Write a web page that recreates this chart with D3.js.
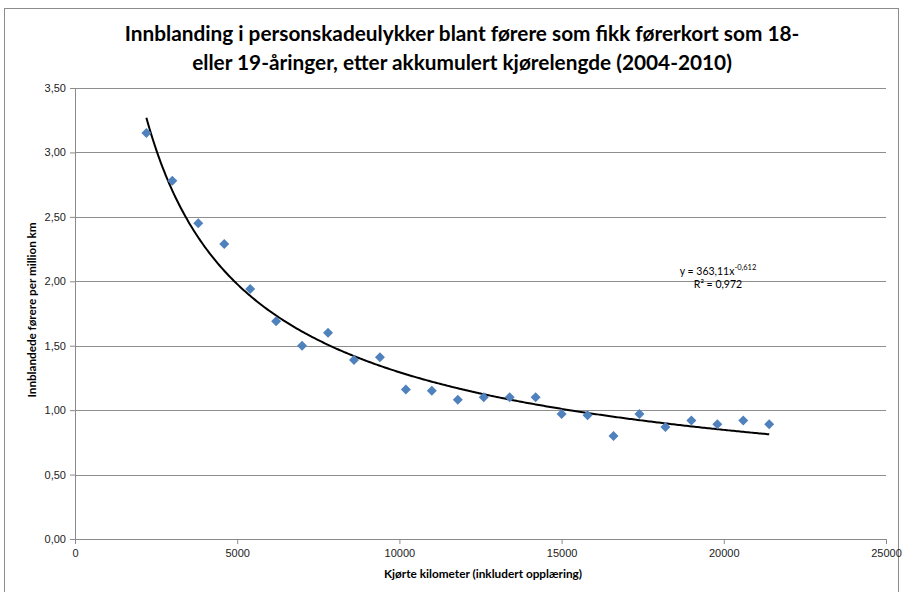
<!DOCTYPE html>
<html>
<head>
<meta charset="utf-8">
<script src="https://cdn.jsdelivr.net/npm/d3@7/dist/d3.min.js"></script>
<style>
  body { margin: 0; background: #fff; }
  svg { font-family: Lato, "Open Sans", sans-serif; }
  .tick text { font-size: 11px; fill: #222; }
</style>
</head>
<body>
<div id="chart"></div>
<script>
// Data
var kilometers = [2200, 3000, 3800, 4600, 5400, 6200, 7000, 7800, 8600, 9400,
  10200, 11000, 11800, 12600, 13400, 14200, 15000, 15800, 16600, 17400,
  18200, 19000, 19800, 20600, 21400];
var involvement = [3.15, 2.78, 2.45, 2.29, 1.94, 1.69, 1.50, 1.60, 1.39, 1.41,
  1.16, 1.15, 1.08, 1.10, 1.10, 1.10, 0.97, 0.96, 0.80, 0.97,
  0.87, 0.92, 0.89, 0.92, 0.89];
var xTicks = [0, 5000, 10000, 15000, 20000, 25000];
var yTicks = [0, 0.5, 1, 1.5, 2, 2.5, 3, 3.5];

// power trendline as printed on the chart
var trendA = 363.11;
var trendB = -0.612;

var svgWidth = 904;
var svgHeight = 592;

var margin = {
  top: 88,
  right: 18,
  bottom: 53,
  left: 75
};

var width = svgWidth - margin.left - margin.right;
var height = svgHeight - margin.top - margin.bottom;

var svg = d3.select("#chart")
  .append("svg")
  .attr("width", svgWidth)
  .attr("height", svgHeight);

// chart frame
svg.append("rect")
  .attr("x", 4.5)
  .attr("y", 8.5)
  .attr("width", 894)
  .attr("height", 600)
  .attr("fill", "none")
  .attr("stroke", "#8c8c8c");

var chartGroup = svg.append("g")
  .attr("transform", `translate(${margin.left}, ${margin.top})`);

var xScale = d3.scaleLinear().domain([0, 25000]).range([0, width]);
var yScale = d3.scaleLinear().domain([0, 3.5]).range([height, 0]);

// gridlines
chartGroup.selectAll(".grid")
  .data(yTicks.filter(d => d > 0))
  .enter()
  .append("line")
  .attr("x1", 0)
  .attr("x2", width)
  .attr("y1", d => Math.round(yScale(d)) + 0.5)
  .attr("y2", d => Math.round(yScale(d)) + 0.5)
  .attr("stroke", "#8e8e8e")
  .attr("stroke-width", 1);

var fmt = d => d3.format(".2f")(d).replace(".", ",");

var leftAxis = d3.axisLeft(yScale).tickValues(yTicks).tickFormat(fmt).tickSize(5).tickPadding(4);
var bottomAxis = d3.axisBottom(xScale).tickValues(xTicks).tickFormat(d3.format("d")).tickSize(5).tickPadding(5);

var yAxis = chartGroup.append("g").call(leftAxis);
var xAxis = chartGroup.append("g")
  .attr("transform", `translate(0, ${height})`)
  .call(bottomAxis);

[xAxis, yAxis].forEach(function(ax) {
  ax.select(".domain").attr("stroke", "#8a8a8a");
  ax.selectAll(".tick line").attr("stroke", "#8a8a8a");
});

// trendline
var trendLine = d3.line()
  .x(d => xScale(d))
  .y(d => yScale(trendA * Math.pow(d, trendB)));
var trendX = d3.range(kilometers[0], kilometers[kilometers.length - 1] + 1, 50);
chartGroup.append("path")
  .datum(trendX)
  .attr("d", trendLine)
  .attr("fill", "none")
  .attr("stroke", "#000")
  .attr("stroke-width", 2);

// diamond markers
chartGroup.selectAll(".pt")
  .data(kilometers)
  .enter()
  .append("path")
  .attr("class", "pt")
  .attr("d", "M0,-5L5,0L0,5L-5,0Z")
  .attr("transform", (d, i) => `translate(${xScale(d)}, ${yScale(involvement[i])})`)
  .attr("fill", "#4f81bd");

// equation label
var eq = svg.append("text")
  .attr("x", 718)
  .attr("y", 275)
  .attr("text-anchor", "middle")
  .attr("font-size", 10.5)
  .attr("fill", "#000");
eq.append("tspan").text("y = 363,11x");
eq.append("tspan").attr("dy", -5).attr("font-size", 7.5).text("-0,612");
svg.append("text")
  .attr("x", 718)
  .attr("y", 288)
  .attr("text-anchor", "middle")
  .attr("font-size", 10.5)
  .attr("fill", "#000")
  .text("R² = 0,972");

// title
var title = svg.append("text")
  .attr("text-anchor", "middle")
  .attr("font-size", 20.8)
  .attr("font-weight", "bold")
  .attr("fill", "#000");
title.append("tspan").attr("x", 462).attr("y", 41)
  .text("Innblanding i personskadeulykker blant førere som fikk førerkort som 18-");
title.append("tspan").attr("x", 462).attr("y", 70)
  .text("eller 19-åringer, etter akkumulert kjørelengde (2004-2010)");

// axis titles
svg.append("text")
  .attr("x", 483)
  .attr("y", 578)
  .attr("text-anchor", "middle")
  .attr("font-size", 11.8)
  .attr("font-weight", "bold")
  .text("Kjørte kilometer (inkludert opplæring)");

svg.append("text")
  .attr("transform", "translate(36, 310) rotate(-90)")
  .attr("text-anchor", "middle")
  .attr("font-size", 11.7)
  .attr("font-weight", "bold")
  .text("Innblandede førere per million km");
</script>
</body>
</html>
